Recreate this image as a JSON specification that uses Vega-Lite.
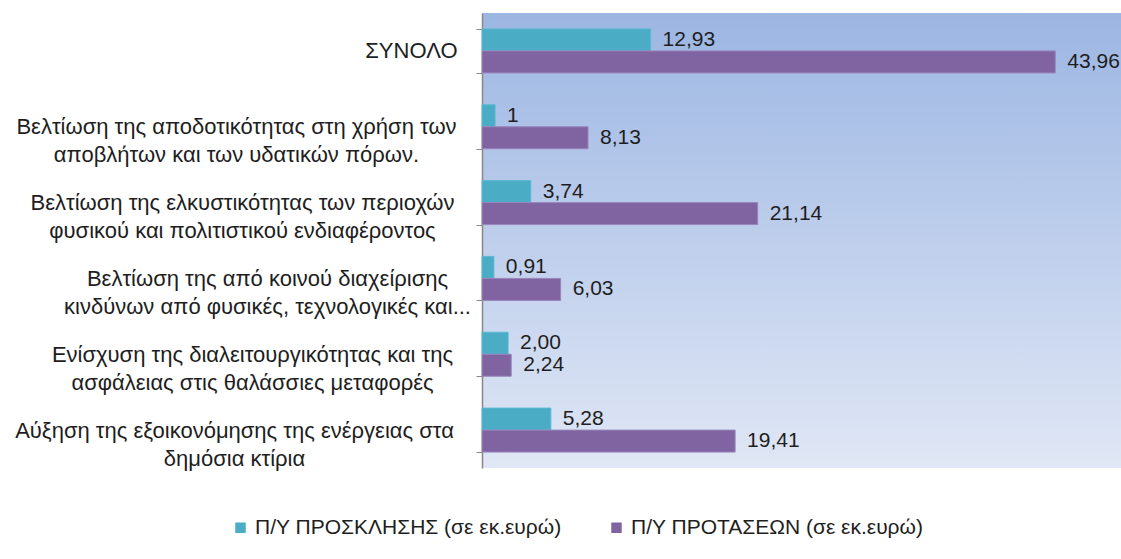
{
  "$schema": "https://vega.github.io/schema/vega-lite/v6.json",
  "width": 639,
  "height": 455,
  "autosize": {"type": "none"},
  "padding": {"left": 482, "top": 13, "right": 0, "bottom": 91},
  "background": "white",
  "config": {"view": {"stroke": null}, "font": "Liberation Sans"},
  "view": {
    "stroke": null,
    "fill": {
      "gradient": "linear",
      "x1": 0, "y1": 0, "x2": 0, "y2": 1,
      "stops": [
        {"offset": 0, "color": "#9cb6e3"},
        {"offset": 1, "color": "#e0e7f5"}
      ]
    }
  },
  "data": {
    "values": [
      {"category": "ΣΥΝΟΛΟ", "series": "Π/Υ ΠΡΟΣΚΛΗΣΗΣ (σε εκ.ευρώ)", "value": 12.93, "label": "12,93"},
      {"category": "ΣΥΝΟΛΟ", "series": "Π/Υ ΠΡΟΤΑΣΕΩΝ  (σε εκ.ευρώ)", "value": 43.96, "label": "43,96"},
      {"category": "Βελτίωση της αποδοτικότητας στη χρήση των|αποβλήτων και των υδατικών πόρων.", "series": "Π/Υ ΠΡΟΣΚΛΗΣΗΣ (σε εκ.ευρώ)", "value": 1, "label": "1"},
      {"category": "Βελτίωση της αποδοτικότητας στη χρήση των|αποβλήτων και των υδατικών πόρων.", "series": "Π/Υ ΠΡΟΤΑΣΕΩΝ  (σε εκ.ευρώ)", "value": 8.13, "label": "8,13"},
      {"category": "Βελτίωση της ελκυστικότητας των περιοχών|φυσικού και πολιτιστικού ενδιαφέροντος", "series": "Π/Υ ΠΡΟΣΚΛΗΣΗΣ (σε εκ.ευρώ)", "value": 3.74, "label": "3,74"},
      {"category": "Βελτίωση της ελκυστικότητας των περιοχών|φυσικού και πολιτιστικού ενδιαφέροντος", "series": "Π/Υ ΠΡΟΤΑΣΕΩΝ  (σε εκ.ευρώ)", "value": 21.14, "label": "21,14"},
      {"category": "Βελτίωση της από κοινού διαχείρισης|κινδύνων από φυσικές, τεχνολογικές και...", "series": "Π/Υ ΠΡΟΣΚΛΗΣΗΣ (σε εκ.ευρώ)", "value": 0.91, "label": "0,91"},
      {"category": "Βελτίωση της από κοινού διαχείρισης|κινδύνων από φυσικές, τεχνολογικές και...", "series": "Π/Υ ΠΡΟΤΑΣΕΩΝ  (σε εκ.ευρώ)", "value": 6.03, "label": "6,03"},
      {"category": "Ενίσχυση της διαλειτουργικότητας και της|ασφάλειας στις θαλάσσιες μεταφορές", "series": "Π/Υ ΠΡΟΣΚΛΗΣΗΣ (σε εκ.ευρώ)", "value": 2.00, "label": "2,00"},
      {"category": "Ενίσχυση της διαλειτουργικότητας και της|ασφάλειας στις θαλάσσιες μεταφορές", "series": "Π/Υ ΠΡΟΤΑΣΕΩΝ  (σε εκ.ευρώ)", "value": 2.24, "label": "2,24"},
      {"category": "Αύξηση της εξοικονόμησης της ενέργειας στα|δημόσια κτίρια", "series": "Π/Υ ΠΡΟΣΚΛΗΣΗΣ (σε εκ.ευρώ)", "value": 5.28, "label": "5,28"},
      {"category": "Αύξηση της εξοικονόμησης της ενέργειας στα|δημόσια κτίρια", "series": "Π/Υ ΠΡΟΤΑΣΕΩΝ  (σε εκ.ευρώ)", "value": 19.41, "label": "19,41"}
    ]
  },
  "encoding": {
    "y": {
      "field": "category",
      "type": "nominal",
      "sort": null,
      "scale": {"paddingInner": 0.42, "paddingOuter": 0.21},
      "axis": {
        "title": null,
        "domainColor": "#888888",
        "domainWidth": 1.5,
        "tickColor": "#888888",
        "tickSize": 6,
        "tickBand": "extent",
        "labelFontSize": 22,
        "labelColor": "#1e1e1e",
        "labelLineHeight": 28,
        "labelLimit": 0,
        "labelBaseline": "middle",
        "labelExpr": "datum.value ? split(datum.value, '|') : ''",
        "labelAlign": {"condition": {"test": "datum.value === 'ΣΥΝΟΛΟ'", "value": "right"}, "value": "center"},
        "labelPadding": {
          "condition": [
            {"test": "datum.value === 'ΣΥΝΟΛΟ'", "value": 19},
            {"test": "datum.value === 'Βελτίωση της από κοινού διαχείρισης|κινδύνων από φυσικές, τεχνολογικές και...'", "value": 209},
            {"test": "datum.value === 'Ενίσχυση της διαλειτουργικότητας και της|ασφάλειας στις θαλάσσιες μεταφορές'", "value": 224},
            {"test": "datum.value === 'Βελτίωση της ελκυστικότητας των περιοχών|φυσικού και πολιτιστικού ενδιαφέροντος'", "value": 234},
            {"test": "datum.value === 'Αύξηση της εξοικονόμησης της ενέργειας στα|δημόσια κτίρια'", "value": 242}
          ],
          "value": 240
        }
      }
    },
    "yOffset": {"field": "series", "type": "nominal", "sort": ["Π/Υ ΠΡΟΣΚΛΗΣΗΣ (σε εκ.ευρώ)", "Π/Υ ΠΡΟΤΑΣΕΩΝ  (σε εκ.ευρώ)"]},
    "x": {"field": "value", "type": "quantitative", "scale": {"domain": [0, 49], "nice": false}, "axis": null}
  },
  "layer": [
    {
      "mark": {"type": "bar", "strokeWidth": 1},
      "encoding": {
        "color": {
          "field": "series",
          "type": "nominal",
          "sort": ["Π/Υ ΠΡΟΣΚΛΗΣΗΣ (σε εκ.ευρώ)", "Π/Υ ΠΡΟΤΑΣΕΩΝ  (σε εκ.ευρώ)"],
          "scale": {"range": ["#4bacc6", "#8064a2"]},
          "legend": {
            "title": null,
            "orient": "none",
            "direction": "horizontal",
            "legendX": -252,
            "legendY": 504,
            "symbolType": "square",
            "symbolSize": 110,
            "symbolStrokeWidth": 0,
            "labelFontSize": 21,
            "labelColor": "#1e1e1e",
            "labelLimit": 0,
            "labelOffset": 4,
            "columnPadding": 44
          }
        },
        "stroke": {
          "field": "series",
          "type": "nominal",
          "scale": {"range": ["#5bb8d0", "#9a85bb"]},
          "legend": null
        }
      }
    },
    {
      "mark": {"type": "text", "align": "left", "baseline": "middle", "dx": 12, "fontSize": 21, "color": "#1e1e1e"},
      "encoding": {"text": {"field": "label"}}
    }
  ]
}
